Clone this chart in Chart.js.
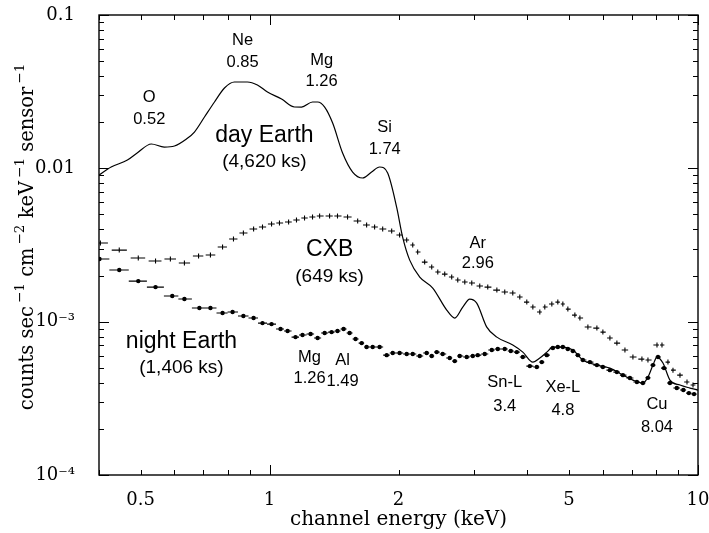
<!DOCTYPE html>
<html>
<head>
<meta charset="utf-8">
<title>Suzaku XIS background spectra</title>
<script src="https://cdn.jsdelivr.net/npm/chart.js@4/dist/chart.umd.min.js"></script>
<style>
  html, body { margin: 0; padding: 0; background: #fff; }
  canvas { display: block; }
</style>
</head>
<body>
<canvas id="spec" width="709" height="533"></canvas>
<script>
// day Earth spectrum: channel energy (keV) / counts s-1 cm-2 keV-1 sensor-1
const dayE = [0.40, 0.427, 0.466, 0.491, 0.530, 0.568, 0.600, 0.640, 0.668, 0.705,
  0.744, 0.785, 0.828, 0.888, 0.937, 0.989, 1.067, 1.144, 1.188, 1.260,
  1.295, 1.345, 1.404, 1.481, 1.563, 1.650, 1.731, 1.807, 1.887, 1.980,
  2.045, 2.124, 2.242, 2.404, 2.592, 2.706, 2.825, 2.933, 3.045, 3.214,
  3.393, 3.696, 3.901, 4.117, 4.274, 4.438, 4.584, 4.837, 5.106, 5.387,
  5.808, 6.229, 6.680, 7.049, 7.437, 7.642, 7.850, 8.022, 8.284, 8.601,
  9.077, 9.579, 10.0];
const dayRate = [0.00904, 0.0102, 0.01133, 0.01259, 0.01441, 0.01377, 0.01398, 0.01553, 0.01725, 0.02161,
  0.02707, 0.03341, 0.03655, 0.03655, 0.03495, 0.03146, 0.0283, 0.02512, 0.0251, 0.02707,
  0.02707, 0.0251, 0.01975, 0.01259, 0.00946, 0.00865, 0.00946, 0.0102, 0.00932, 0.00559,
  0.00356, 0.00252, 0.001954, 0.001657, 0.00119, 0.001056, 0.001245, 0.001404, 0.001322, 0.000922,
  0.000793, 0.000704, 0.000633, 0.000545, 0.000579, 0.000633, 0.000683, 0.000683, 0.000653, 0.000562,
  0.000521, 0.000498, 0.000448, 0.000416, 0.000398, 0.000435, 0.000521, 0.000588, 0.000537, 0.000416,
  0.000386, 0.000369, 0.000358];

// cosmic X-ray background (blank sky)
const cxbE = [0.403, 0.446, 0.494, 0.542, 0.587, 0.633, 0.683, 0.728, 0.777, 0.824,
  0.869, 0.918, 0.963, 1.011, 1.055, 1.108, 1.156, 1.207, 1.260, 1.309,
  1.381, 1.441, 1.521, 1.606, 1.685, 1.759, 1.837, 1.928, 2.012, 2.090,
  2.159, 2.217, 2.302, 2.391, 2.470, 2.564, 2.662, 2.750, 2.856, 2.965,
  3.095, 3.231, 3.393, 3.540, 3.696, 3.838, 3.985, 4.117, 4.274, 4.390,
  4.559, 4.708, 4.837, 4.969, 5.160, 5.301, 5.534, 5.808, 5.998, 6.229,
  6.467, 6.753, 7.049, 7.398, 7.642, 8.022, 8.240, 8.509, 8.742, 9.077,
  9.426, 9.735];
const cxbRate = [0.003256, 0.00293, 0.0026, 0.002485, 0.00256, 0.002411, 0.002678, 0.002719, 0.003066, 0.003458,
  0.003784, 0.004018, 0.004141, 0.004331, 0.004397, 0.004464, 0.0046, 0.004741, 0.004813, 0.004886,
  0.004886, 0.004886, 0.004813, 0.004533, 0.004266, 0.004141, 0.004018, 0.0039, 0.003672, 0.003406,
  0.00316, 0.002844, 0.002447, 0.002271, 0.002106, 0.002043, 0.001954, 0.001868, 0.001813, 0.001786,
  0.001707, 0.001681, 0.001607, 0.00156, 0.001537, 0.001447, 0.001342, 0.001245, 0.001155, 0.001245,
  0.001303, 0.001342, 0.001303, 0.001208, 0.001104, 0.001056, 0.000922, 0.000908, 0.000855, 0.000782,
  0.000725, 0.000653, 0.000588, 0.00057, 0.000562, 0.000704, 0.000704, 0.000545, 0.000483, 0.000448,
  0.000404, 0.000386];

// night Earth (non X-ray background)
const nightE = [0.401, 0.446, 0.494, 0.542, 0.593, 0.633, 0.686, 0.728, 0.777, 0.820,
  0.869, 0.918, 0.963, 1.011, 1.061, 1.102, 1.150, 1.194, 1.247, 1.295,
  1.345, 1.396, 1.441, 1.489, 1.538, 1.588, 1.641, 1.685, 1.741, 1.807,
  1.877, 1.939, 2.012, 2.090, 2.159, 2.242, 2.327, 2.391, 2.456, 2.536,
  2.634, 2.706, 2.779, 2.886, 2.981, 3.062, 3.179, 3.302, 3.410, 3.540,
  3.657, 3.777, 3.901, 4.051, 4.206, 4.320, 4.438, 4.584, 4.708, 4.837,
  4.969, 5.106, 5.244, 5.387, 5.594, 5.808, 5.998, 6.229, 6.467, 6.680,
  6.936, 7.202, 7.437, 7.642, 7.850, 8.066, 8.329, 8.601, 8.923, 9.243,
  9.522, 9.790];
const nightRate = [0.00256, 0.002171, 0.001839, 0.001681, 0.001469, 0.001404, 0.001227, 0.001227, 0.001138, 0.001155,
  0.001088, 0.001056, 0.000979, 0.000964, 0.000895, 0.000869, 0.000793, 0.000818, 0.00083, 0.000782,
  0.000843, 0.000855, 0.000869, 0.000895, 0.000843, 0.00077, 0.000725, 0.000683, 0.000683, 0.000683,
  0.000605, 0.000624, 0.000624, 0.000615, 0.000615, 0.000597, 0.000624, 0.000597, 0.000633, 0.000615,
  0.000579, 0.000553, 0.000597, 0.000588, 0.000597, 0.000605, 0.000615, 0.000653, 0.000663, 0.000663,
  0.000643, 0.000633, 0.000588, 0.000513, 0.000506, 0.000545, 0.000605, 0.000673, 0.000683, 0.000683,
  0.000663, 0.000643, 0.000605, 0.000562, 0.000545, 0.000521, 0.000506, 0.000483, 0.000469, 0.000448,
  0.000429, 0.000404, 0.000398, 0.00043, 0.000521, 0.000588, 0.000498, 0.000398, 0.000369, 0.000358,
  0.000342, 0.000337];

// axis labels
const xLabelTicks = [0.5, 1, 2, 5, 10];
const yLabelTicks = [0.0001, 0.001, 0.01, 0.1];
const yLabelText = ['10⁻⁴', '10⁻³', '0.01', '0.1'];

// line identifications and spectrum names, placed in data coordinates
const notes = [
  { text: 'O', e: 0.524, v: 0.0292, size: 16.5 },
  { text: '0.52', e: 0.524, v: 0.02098, size: 16.5 },
  { text: 'Ne', e: 0.865, v: 0.0687, size: 16.5 },
  { text: '0.85', e: 0.865, v: 0.0494, size: 16.5 },
  { text: 'Mg', e: 1.323, v: 0.0509, size: 16.5 },
  { text: '1.26', e: 1.323, v: 0.0371, size: 16.5 },
  { text: 'day Earth', e: 0.973, v: 0.01624, size: 23 },
  { text: '(4,620 ks)', e: 0.973, v: 0.0110, size: 19 },
  { text: 'Si', e: 1.857, v: 0.0186, size: 16.5 },
  { text: '1.74', e: 1.857, v: 0.01336, size: 16.5 },
  { text: 'CXB', e: 1.381, v: 0.00293, size: 23 },
  { text: '(649 ks)', e: 1.381, v: 0.001954, size: 19 },
  { text: 'Ar', e: 3.062, v: 0.003256, size: 16.5 },
  { text: '2.96', e: 3.062, v: 0.002411, size: 16.5 },
  { text: 'night Earth', e: 0.623, v: 0.000736, size: 23 },
  { text: '(1,406 ks)', e: 0.623, v: 0.000498, size: 19 },
  { text: 'Mg', e: 1.240, v: 0.000588, size: 16.5 },
  { text: '1.26', e: 1.240, v: 0.000429, size: 16.5 },
  { text: 'Al', e: 1.481, v: 0.000562, size: 16.5 },
  { text: '1.49', e: 1.481, v: 0.00041, size: 16.5 },
  { text: 'Sn-L', e: 3.540, v: 0.000404, size: 16.5 },
  { text: '3.4', e: 3.540, v: 0.000281, size: 16.5 },
  { text: 'Xe-L', e: 4.837, v: 0.000374, size: 16.5 },
  { text: '4.8', e: 4.837, v: 0.000265, size: 16.5 },
  { text: 'Cu', e: 8.022, v: 0.00029, size: 16.5 },
  { text: '8.04', e: 8.022, v: 0.000205, size: 16.5 }
];

const SERIF = '"DejaVu Serif", "Liberation Serif", serif';
const SANS = '"Liberation Sans", Arial, Helvetica, sans-serif';

// 1..9 x 10^k tick positions inside [lo, hi]
function logTicks(lo, hi) {
  const out = [];
  for (let k = Math.floor(Math.log10(lo)); k <= Math.ceil(Math.log10(hi)); k++) {
    for (let m = 1; m <= 9; m++) {
      const v = +(m * Math.pow(10, k)).toPrecision(6);
      if (v >= lo && v <= hi) out.push(v);
    }
  }
  return out;
}
const isDecade = v => Math.abs(Math.log10(v) - Math.round(Math.log10(v))) < 1e-6;

const toPoints = (xs, ys) => xs.map((x, i) => ({ x, y: ys[i] }));

// horizontal bars span half way to each neighbouring bin, plus a short vertical bar
const errorBars = {
  id: 'errorBars',
  afterDatasetsDraw(chart) {
    const { ctx, chartArea: a } = chart;
    ctx.save();
    ctx.beginPath();
    ctx.rect(a.left, a.top, a.right - a.left, a.bottom - a.top);
    ctx.clip();
    chart.data.datasets.forEach((ds, i) => {
      if (!ds.errorBar) return;
      const pts = chart.getDatasetMeta(i).data;
      ctx.strokeStyle = '#000';
      ctx.lineWidth = 1.1;
      ctx.beginPath();
      pts.forEach((p, j) => {
        const prev = pts[j - 1], next = pts[j + 1];
        let l = prev ? (p.x - prev.x) / 2 : (next.x - p.x) / 2;
        let r = next ? (next.x - p.x) / 2 : l;
        l *= ds.barFrac; r *= ds.barFrac;
        ctx.moveTo(p.x - l, p.y);
        ctx.lineTo(p.x + r, p.y);
        ctx.moveTo(p.x, p.y - ds.errorBar);
        ctx.lineTo(p.x, p.y + ds.errorBar);
      });
      ctx.stroke();
    });
    ctx.restore();
  }
};

// box frame with inward ticks on all four sides
const frameTicks = {
  id: 'frameTicks',
  afterDraw(chart) {
    const { ctx, chartArea: a, scales: { x, y } } = chart;
    ctx.save();
    ctx.strokeStyle = '#000';
    ctx.lineWidth = 1.4;
    ctx.strokeRect(a.left, a.top, a.right - a.left, a.bottom - a.top);
    ctx.lineWidth = 1;
    ctx.beginPath();
    x.ticks.forEach(t => {
      const px = Math.round(x.getPixelForValue(t.value)) + 0.5;
      const len = isDecade(t.value) ? 10 : 5;
      ctx.moveTo(px, a.bottom); ctx.lineTo(px, a.bottom - len);
      ctx.moveTo(px, a.top); ctx.lineTo(px, a.top + len);
    });
    y.ticks.forEach(t => {
      const py = Math.round(y.getPixelForValue(t.value)) + 0.5;
      const len = isDecade(t.value) ? 10 : 5;
      ctx.moveTo(a.left, py); ctx.lineTo(a.left + len, py);
      ctx.moveTo(a.right, py); ctx.lineTo(a.right - len, py);
    });
    ctx.stroke();
    ctx.restore();
  }
};

const noteLabels = {
  id: 'noteLabels',
  afterDraw(chart) {
    const { ctx, scales: { x, y } } = chart;
    ctx.save();
    ctx.fillStyle = '#000';
    ctx.textAlign = 'center';
    ctx.textBaseline = 'middle';
    notes.forEach(n => {
      ctx.font = n.size + 'px ' + SANS;
      ctx.fillText(n.text, x.getPixelForValue(n.e), y.getPixelForValue(n.v));
    });
    ctx.restore();
  }
};

// rotated y title with real superscripts
const yTitle = {
  id: 'yTitle',
  afterDraw(chart) {
    const { ctx, chartArea: a } = chart;
    const parts = [['counts sec', 0], ['−1', 1], [' cm', 0], ['−2', 1], [' keV', 0], ['−1', 1], [' sensor', 0], ['−1', 1]];
    const base = '19.5px ' + SERIF, sup = '13.5px ' + SERIF;
    ctx.save();
    ctx.translate(33, (a.top + a.bottom) / 2 - 8);
    ctx.rotate(-Math.PI / 2);
    ctx.fillStyle = '#000';
    ctx.textBaseline = 'alphabetic';
    let w = 0;
    parts.forEach(([s, up]) => { ctx.font = up ? sup : base; w += ctx.measureText(s).width + (up ? 3 : 0); });
    let cx = -w / 2;
    parts.forEach(([s, up]) => {
      ctx.font = up ? sup : base;
      if (up) cx += 3;
      ctx.fillText(s, cx, up ? -9 : 0);
      cx += ctx.measureText(s).width;
    });
    ctx.restore();
  }
};

new Chart(document.getElementById('spec'), {
  type: 'scatter',
  data: {
    datasets: [
      {
        label: 'day Earth',
        data: toPoints(dayE, dayRate),
        showLine: true,
        borderColor: '#000',
        borderWidth: 1.2,
        pointRadius: 0,
        cubicInterpolationMode: 'monotone'
      },
      {
        label: 'CXB',
        data: toPoints(cxbE, cxbRate),
        pointRadius: 0,
        errorBar: 2.5,
        barFrac: 0.8
      },
      {
        label: 'night Earth',
        data: toPoints(nightE, nightRate),
        pointRadius: 2.2,
        pointBackgroundColor: '#000',
        pointBorderWidth: 0,
        errorBar: 1.5,
        barFrac: 1
      }
    ]
  },
  options: {
    responsive: false,
    animation: false,
    layout: { padding: { top: 15, right: 11, left: 0, bottom: 0 } },
    plugins: { legend: { display: false }, tooltip: { enabled: false } },
    scales: {
      x: {
        type: 'logarithmic',
        min: 0.4,
        max: 10,
        afterBuildTicks: s => { s.ticks = logTicks(0.4, 10).map(v => ({ value: v })); },
        // fixed box; the end labels may overhang the plot frame
        afterFit: s => { s.height = 58; s.paddingLeft = 0; s.paddingRight = 0; },
        grid: { display: false },
        border: { display: false },
        ticks: {
          autoSkip: false,
          maxRotation: 0,
          padding: 7,
          color: '#000',
          font: { family: SERIF, size: 18 },
          callback: v => xLabelTicks.includes(v) ? String(v) : ''
        },
        title: {
          display: true,
          text: 'channel energy (keV)',
          color: '#000',
          font: { family: SERIF, size: 20 },
          padding: { top: 0, bottom: 1 }
        }
      },
      y: {
        type: 'logarithmic',
        min: 0.0001,
        max: 0.1,
        afterBuildTicks: s => { s.ticks = logTicks(0.0001, 0.1).map(v => ({ value: v })); },
        afterFit: s => { s.width = 99; s.paddingTop = 0; s.paddingBottom = 0; },
        grid: { display: false },
        border: { display: false },
        ticks: {
          autoSkip: false,
          padding: 16,
          color: '#000',
          font: { family: SERIF, size: 18 },
          callback: v => {
            const i = yLabelTicks.indexOf(v);
            return i < 0 ? '' : yLabelText[i];
          }
        }
      }
    }
  },
  plugins: [errorBars, frameTicks, noteLabels, yTitle]
});
</script>
</body>
</html>
